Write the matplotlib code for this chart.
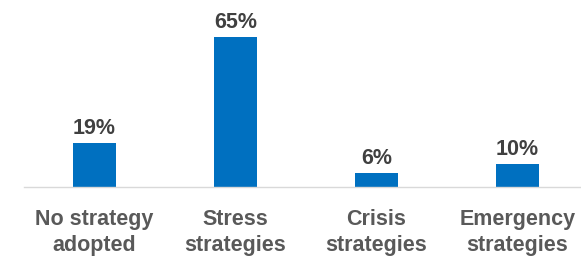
import matplotlib.pyplot as plt
from matplotlib import font_manager

categories = ["No strategy\nadopted", "Stress\nstrategies", "Crisis\nstrategies", "Emergency\nstrategies"]
values = [19, 65, 6, 10]
value_labels = ["19%", "65%", "6%", "10%"]

names = {f.name for f in font_manager.fontManager.ttflist}
family = ["Liberation Sans Narrow"] if "Liberation Sans Narrow" in names else ["Liberation Sans"]
plt.rcParams['font.family'] = family + ["DejaVu Sans"]

W, H = 581, 259
fig = plt.figure(figsize=(W / 100, H / 100), dpi=100)

# axes in pixel terms: baseline at y=187, left edge x=24, 141 px per category
px_per_unit = 2.31
y_top = 70
ax_h = y_top * px_per_unit
ax = fig.add_axes([24 / W, (H - 187) / H, 564 / W, ax_h / H])

x = range(len(values))
ax.bar(x, values, width=0.31, color="#0070C0")
for xi, v, lab in zip(x, values, value_labels):
    ax.text(xi, v + 1.6, lab, ha="center", va="bottom", fontsize=15.5,
            fontweight="bold", color="#404040")

ax.set_xlim(-0.5, 3.5)
ax.set_ylim(0, y_top)
ax.set_xticks(list(x))
ax.set_xticklabels(categories, fontsize=15.5, fontweight="bold", color="#595959",
                   linespacing=1.3)
ax.tick_params(axis="x", length=0, pad=16)
ax.set_yticks([])
for s in ["top", "right", "left"]:
    ax.spines[s].set_visible(False)
ax.spines["bottom"].set_color("#D9D9D9")
ax.spines["bottom"].set_linewidth(1)

fig.savefig("out.png", dpi=100)
